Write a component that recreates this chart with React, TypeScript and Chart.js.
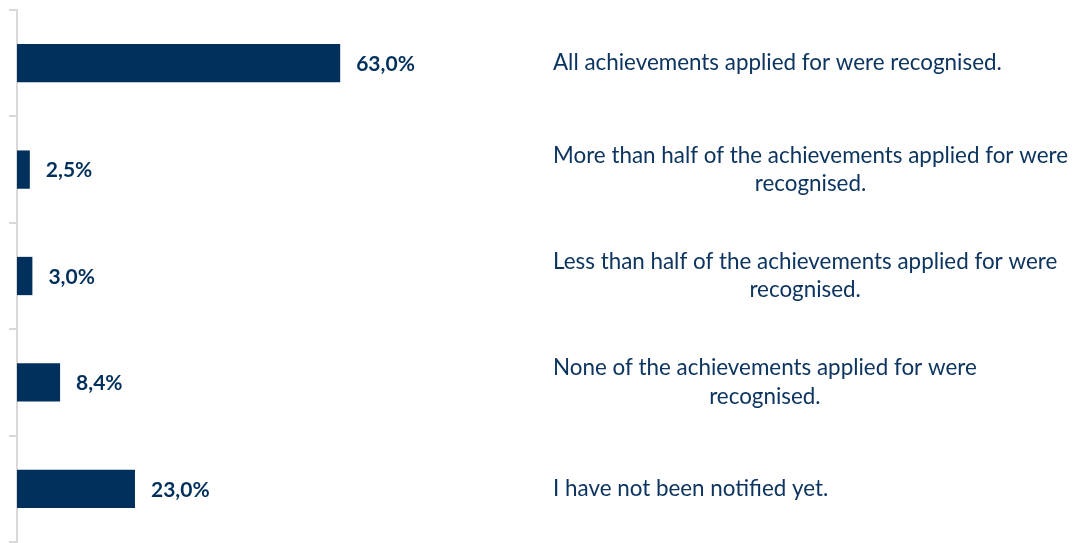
import React, { useEffect, useRef } from "react";
import { Chart, registerables } from "chart.js";

Chart.register(...registerables);

const categories: string[][] = [
  ["All achievements applied for were recognised."],
  ["More than half of the achievements applied for were", "recognised."],
  ["Less than half of the achievements applied for were", "recognised."],
  ["None of the achievements applied for were", "recognised."],
  ["I have not been notified yet."],
];
const values: number[] = [63.0, 2.5, 3.0, 8.4, 23.0];
const valueLabels: string[] = ["63,0%", "2,5%", "3,0%", "8,4%", "23,0%"];

const NAVY = "#02305c";
const TEXT = "#0d3560";
const FONT = "Lato, 'Open Sans', sans-serif";

const labelPlugin = {
  id: "customLabels",
  afterDatasetsDraw(chart: any) {
    const ctx = chart.ctx;
    const meta = chart.getDatasetMeta(0);
    const yScale = chart.scales.y;
    ctx.save();
    ctx.textBaseline = "middle";
    meta.data.forEach((bar: any, i: number) => {
      ctx.font = `bold 21px ${FONT}`;
      ctx.fillStyle = NAVY;
      ctx.textAlign = "left";
      ctx.fillText(valueLabels[i], bar.x + 16, bar.y + 1);
    });
    ctx.font = `22.4px ${FONT}`;
    ctx.fillStyle = TEXT;
    ctx.textAlign = "center";
    const lineH = 28.5;
    categories.forEach((lines, i) => {
      const cy = yScale.getPixelForValue(i);
      const maxW = Math.max(...lines.map((l) => ctx.measureText(l).width));
      const cx = 553 + maxW / 2;
      const startY = cy - ((lines.length - 1) * lineH) / 2;
      lines.forEach((l, j) => ctx.fillText(l, cx, startY + j * lineH));
    });
    ctx.restore();
  },
};

export default function App() {
  const ref = useRef<HTMLCanvasElement | null>(null);
  useEffect(() => {
    if (!ref.current) return;
    const chart = new Chart(ref.current, {
      type: "bar",
      data: {
        labels: categories.map((c) => c.join(" ")),
        datasets: [
          {
            data: values,
            backgroundColor: NAVY,
            categoryPercentage: 1,
            barPercentage: 0.36,
          },
        ],
      },
      options: {
        indexAxis: "y",
        animation: false,
        responsive: true,
        maintainAspectRatio: false,
        layout: { padding: { left: 9, top: 10, bottom: 1, right: 548 } },
        plugins: { legend: { display: false }, tooltip: { enabled: false } },
        scales: {
          x: { display: false, min: 0, max: 100 },
          y: {
            display: true,
            ticks: { display: false },
            grid: {
              drawOnChartArea: false,
              drawTicks: true,
              tickLength: 8,
              color: "#d9d9d9",
              lineWidth: 2,
            },
            border: { display: true, color: "#d9d9d9", width: 2 },
          },
        },
      },
      plugins: [labelPlugin],
    });
    return () => chart.destroy();
  }, []);
  return (
    <div style={{ position: "absolute", left: 0, top: 0, width: 1078, height: 543, background: "#fff" }}>
      <canvas ref={ref} />
    </div>
  );
}
